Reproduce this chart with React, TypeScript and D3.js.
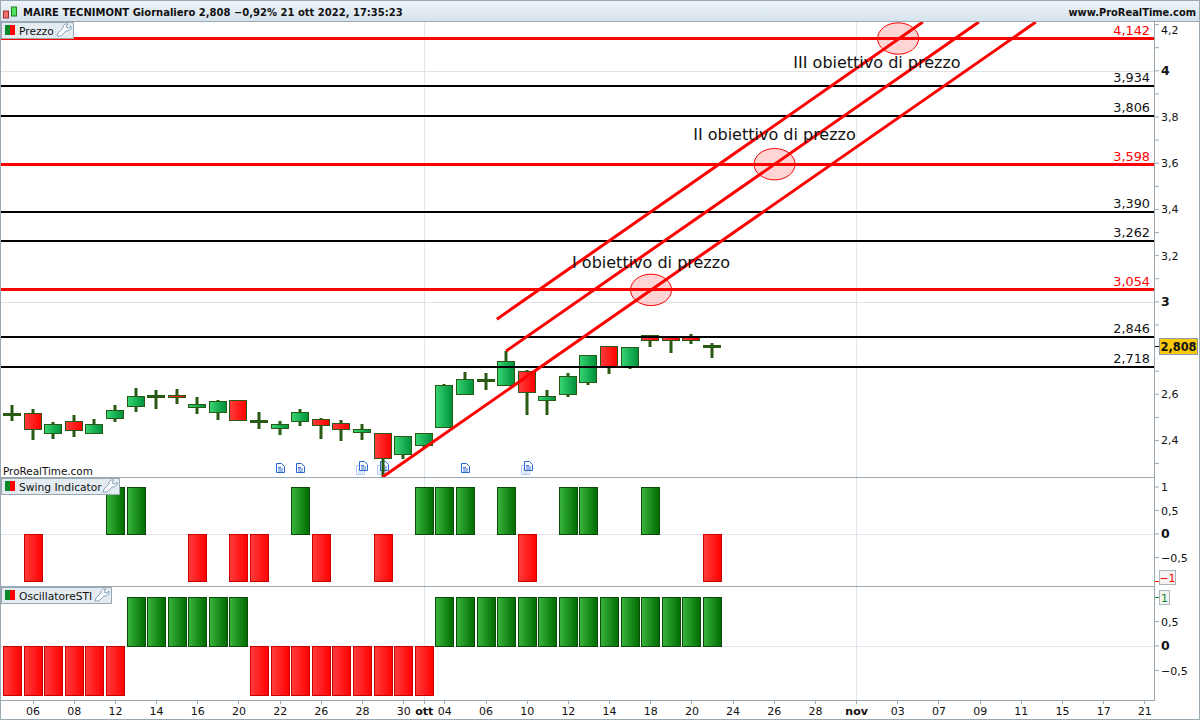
import React from "react";
import * as d3 from "d3";

const W = 1200;
const H = 720;

// [open, high, low, close]
const candles: number[][] = [
  [2.514, 2.553, 2.484, 2.514],
  [2.517, 2.536, 2.402, 2.448],
  [2.433, 2.478, 2.406, 2.47],
  [2.483, 2.51, 2.416, 2.444],
  [2.433, 2.493, 2.433, 2.47],
  [2.494, 2.553, 2.48, 2.53],
  [2.548, 2.627, 2.523, 2.591],
  [2.591, 2.618, 2.536, 2.591],
  [2.597, 2.623, 2.558, 2.587],
  [2.543, 2.588, 2.514, 2.556],
  [2.52, 2.575, 2.488, 2.569],
  [2.574, 2.574, 2.487, 2.487],
  [2.483, 2.523, 2.449, 2.483],
  [2.451, 2.484, 2.423, 2.47],
  [2.481, 2.536, 2.462, 2.522],
  [2.491, 2.497, 2.406, 2.465],
  [2.474, 2.488, 2.397, 2.448],
  [2.435, 2.471, 2.402, 2.448],
  [2.431, 2.431, 2.242, 2.323],
  [2.342, 2.418, 2.32, 2.418],
  [2.381, 2.431, 2.367, 2.431],
  [2.459, 2.644, 2.459, 2.639],
  [2.602, 2.696, 2.602, 2.665],
  [2.662, 2.692, 2.618, 2.662],
  [2.641, 2.787, 2.641, 2.743],
  [2.699, 2.705, 2.51, 2.608],
  [2.572, 2.618, 2.51, 2.591],
  [2.598, 2.692, 2.588, 2.678],
  [2.654, 2.769, 2.64, 2.769],
  [2.807, 2.807, 2.687, 2.717],
  [2.717, 2.803, 2.708, 2.803],
  [2.855, 2.855, 2.804, 2.833],
  [2.847, 2.847, 2.778, 2.833],
  [2.847, 2.86, 2.817, 2.833],
  [2.807, 2.822, 2.757, 2.807],
];

const swing = [0, -1, 0, 0, 0, 1, 1, 0, 0, -1, 0, -1, -1, 0, 1, -1, 0, 0, -1, 0, 1, 1, 1, 0, 1, -1, 0, 1, 1, 0, 0, 1, 0, 0, -1];
const sti = [-1, -1, -1, -1, -1, -1, 1, 1, 1, 1, 1, 1, -1, -1, -1, -1, -1, -1, -1, -1, -1, 1, 1, 1, 1, 1, 1, 1, 1, 1, 1, 1, 1, 1, 1];

const levels = [4.142, 3.934, 3.806, 3.598, 3.39, 3.262, 3.054, 2.846, 2.718];
const redLevels = [4.142, 3.598, 3.054];

// [index start, price start, index end, price end]
const trendLines = [
  [18, 2.242, 49.73, 4.211],
  [24, 2.787, 46.96, 4.211],
  [23.55, 2.925, 44.24, 4.211],
];

const targetX = [31, 37, 43];
const targetY = [3.054, 3.598, 4.142];
const targetLabels = ["I obiettivo di prezzo", "II obiettivo di prezzo", "III obiettivo di prezzo"];
const targetLabelX = [651, 774.5, 877];
const targetLabelY = [3.148, 3.702, 4.013];

const priceTicks = [4.2, 4, 3.8, 3.6, 3.4, 3.2, 3, 2.6, 2.4];
const priceMinor = [4.1, 3.9, 3.7, 3.5, 3.3, 3.1, 2.9, 2.7, 2.5, 2.3];
const swingTicks = [1, 0.5, 0, -0.5];
const stiTicks = [0.5, 0, -0.5];

const dateIdx = [1, 3, 5, 7, 9, 11, 13, 15, 17, 19, 20, 21, 23, 25, 27, 29, 31, 33, 35, 37, 39, 41, 43, 45, 47, 49, 51, 53, 55];
const dateLabels = ["06", "08", "12", "14", "16", "20", "22", "26", "28", "30", "ott", "04", "06", "10", "12", "14", "18", "20", "24", "26", "28", "nov", "03", "07", "09", "11", "15", "17", "21"];

const docsSingle = [13, 14, 22];
const docsStack = [17, 18, 25];

const FONT = "'DejaVu Sans', sans-serif";
const BORDER = "#9aa8b2";
const WICK = "#285a14";

const x = d3.scaleLinear().domain([0, 34]).range([12, 712]);
const yP = d3.scaleLinear().domain([4.142, 2.718]).range([38, 367]);
const yS = d3.scaleLinear().domain([1, -1]).range([487, 581]);
const yO = d3.scaleLinear().domain([1, -1]).range([597, 695]);
const fmt = (v: number, d?: number) => (d === undefined ? String(v) : v.toFixed(d)).replace(".", ",").replace("-", "−");

function Doc({ cx, stacked }: { cx: number; stacked: boolean }) {
  const sheet = (px: number, py: number, color: string, key: string) => (
    <g key={key} transform={`translate(${px},${py})`}>
      <path d="M0.5,0.5H5.5L8.5,3.5V9.5H0.5Z" fill="#fff" stroke={color} />
      <path d="M2,4.5H5M2,6H7M2,8H7" stroke={color} strokeWidth={0.9} />
    </g>
  );
  const c = Math.round(cx);
  return stacked ? (
    <g>
      {sheet(c - 6, 465, "#b5caf0", "b")}
      {sheet(c - 3, 461, "#2a66d0", "f")}
    </g>
  ) : (
    <g>{sheet(c - 4, 463, "#2a66d0", "f")}</g>
  );
}

function Tag({ label, y, w }: { label: string; y: number; w: number }) {
  return (
    <g>
      <rect x={1.5} y={y + 0.5} width={w} height={16} fill="#e4ecf2" stroke={BORDER} />
      <rect x={5} y={y + 3} width={5} height={10} fill="#0a8a2a" />
      <rect x={10} y={y + 3} width={5} height={10} fill="#ff0000" />
      <text x={19} y={y + 12.5} fontSize={10.7} fontFamily={FONT} fill="#111">{label}</text>
      <path
        d={`M${w - 15},${y + 14} l1,-3 l5,-5 l0,-2 l2,-2 l3,0 l-2,2 l1,2 l2,0 l2,-2 l0,3 l-3,2 l-2,0 l-5,5 z`}
        fill="#fff"
        stroke="#6f93b0"
        strokeWidth={0.8}
      />
    </g>
  );
}

export default function App() {
  const bw = 18;
  return (
    <svg
      width={W}
      height={H}
      viewBox={`0 0 ${W} ${H}`}
      style={{ position: "fixed", left: 0, top: 0, display: "block", background: "#fff" }}
    >
      <defs>
        <linearGradient id="cg"><stop offset="0" stopColor="#36d673" /><stop offset="1" stopColor="#00903a" /></linearGradient>
        <linearGradient id="cr"><stop offset="0" stopColor="#ff3d3d" /><stop offset="1" stopColor="#ff0000" /></linearGradient>
        <linearGradient id="bg"><stop offset="0" stopColor="#38b53c" /><stop offset="1" stopColor="#006a00" /></linearGradient>
        <linearGradient id="head" x2="0" y2="1"><stop offset="0" stopColor="#eef4f8" /><stop offset="1" stopColor="#d5e2ec" /></linearGradient>
      </defs>

      {/* grids */}
      {[4, 3].map((v) => (
        <line key={v} x1={1} x2={1155} y1={Math.round(yP(v)) + 0.5} y2={Math.round(yP(v)) + 0.5} stroke="#e2e2e2" />
      ))}
      {[20, 41].map((i) => (
        <line key={i} x1={Math.round(x(i)) + 0.5} x2={Math.round(x(i)) + 0.5} y1={22} y2={700} stroke="#e2e4ee" />
      ))}
      <line x1={1} x2={1155} y1={534.5} y2={534.5} stroke="#e2e4ee" />
      <line x1={1} x2={1155} y1={646.5} y2={646.5} stroke="#e2e4ee" />

      {/* indicator bars */}
      {swing.map((v, i) =>
        v === 0 ? null : (
          <rect
            key={i}
            x={Math.round(x(i)) - 8.5}
            y={Math.min(yS(v), yS(0)) + 0.5}
            width={18}
            height={Math.abs(yS(v) - yS(0))}
            fill={v > 0 ? "url(#bg)" : "url(#cr)"}
            stroke={v > 0 ? "#0b4a0b" : "#c80000"}
          />
        ),
      )}
      {sti.map((v, i) => (
        <rect
          key={i}
          x={Math.round(x(i)) - 8.5}
          y={Math.min(yO(v), yO(0)) + 0.5}
          width={18}
          height={Math.abs(yO(v) - yO(0))}
          fill={v > 0 ? "url(#bg)" : "url(#cr)"}
          stroke={v > 0 ? "#0b4a0b" : "#c80000"}
        />
      ))}

      {docsSingle.map((i) => <Doc key={i} cx={x(i)} stacked={false} />)}
      {docsStack.map((i) => <Doc key={i} cx={x(i)} stacked />)}

      {/* candles */}
      {candles.map(([o, h, l, c], i) => {
        const cx = Math.round(x(i));
        const top = yP(Math.max(o, c));
        const bot = yP(Math.min(o, c));
        return (
          <g key={i}>
            <rect x={cx - 1.5} y={Math.round(yP(h))} width={3} height={Math.round(yP(l) - yP(h))} fill={WICK} />
            {o === c ? (
              <rect x={cx - 9} y={Math.round(top) - 1} width={18} height={3} fill={WICK} />
            ) : (
              <rect
                x={cx - 9 + 0.5}
                y={Math.round(top) + 0.5}
                width={bw - 1}
                height={Math.max(2, Math.round(bot - top))}
                fill={c > o ? "url(#cg)" : "url(#cr)"}
                stroke={WICK}
              />
            )}
          </g>
        );
      })}

      {/* horizontal levels */}
      {levels.map((v) => {
        const red = redLevels.includes(v);
        const ly = red ? Math.round(yP(v)) + 0.5 : Math.round(yP(v));
        return (
          <g key={v}>
            <line x1={1} x2={1155} y1={ly} y2={ly} stroke={red ? "#ff0000" : "#000"} strokeWidth={red ? 3 : 2} />
            <text x={1150} y={ly - 4} textAnchor="end" fontSize={12.8} fontFamily={FONT} fill={red ? "#ff0000" : "#111"}>
              {fmt(v, 3)}
            </text>
          </g>
        );
      })}

      {/* trend channel */}
      {trendLines.map(([a, pa, b, pb], i) => (
        <line key={i} x1={x(a)} y1={yP(pa)} x2={x(b)} y2={yP(pb)} stroke="#ff0000" strokeWidth={3} />
      ))}
      {targetX.map((t, i) => (
        <ellipse key={i} cx={x(t) + 0.8} cy={yP(targetY[i]) + 0.5} rx={20.5} ry={15.7} fill="#ff0000" fillOpacity={0.17} stroke="#ff0000" strokeWidth={1} />
      ))}
      {targetLabels.map((t, i) => (
        <text key={t} x={targetLabelX[i]} y={yP(targetLabelY[i])} textAnchor="middle" fontSize={16} fontFamily={FONT} fill="#111">
          {t}
        </text>
      ))}

      <text x={3} y={475} fontSize={10.4} fontFamily={FONT} fill="#111">ProRealTime.com</text>

      {/* header */}
      <rect x={0} y={0} width={W} height={22} fill="url(#head)" />
      <rect x={0.5} y={0.5} width={W - 1} height={21} fill="none" stroke={BORDER} />
      <rect x={3.5} y={11} width={5} height={7} fill="#f07070" stroke="#a03030" />
      <rect x={11.5} y={7} width={5} height={9} fill="#50e060" stroke="#208020" />
      <text x={23} y={16} fontSize={10} fontWeight={700} fontFamily={FONT} fill="#111">
        MAIRE TECNIMONT Giornaliero 2,808 −0,92% 21 ott 2022, 17:35:23
      </text>
      <text x={1196} y={16} textAnchor="end" fontSize={9.9} fontWeight={700} fontFamily={FONT} fill="#111">www.ProRealTime.com</text>

      {/* frame */}
      <line x1={0.5} x2={0.5} y1={22} y2={719} stroke={BORDER} />
      <line x1={1154.5} x2={1154.5} y1={22} y2={700} stroke={BORDER} />
      <line x1={1199.5} x2={1199.5} y1={22} y2={719} stroke={BORDER} />
      <line x1={0} x2={1155} y1={477.5} y2={477.5} stroke={BORDER} />
      <line x1={0} x2={1155} y1={586.5} y2={586.5} stroke={BORDER} />
      <line x1={0} x2={1155} y1={700.5} y2={700.5} stroke={BORDER} />
      <line x1={0} x2={1200} y1={719.5} y2={719.5} stroke={BORDER} />

      {/* tags */}
      <Tag label="Prezzo" y={22} w={72} />
      <Tag label="Swing Indicator" y={478} w={118} />
      <Tag label="OscillatoreSTI" y={587} w={110} />

      {/* price axis */}
      {priceMinor.map((v) => (
        <line key={v} x1={1155} x2={1159} y1={yP(v)} y2={yP(v)} stroke={BORDER} />
      ))}
      {priceTicks.map((v) => (
        <g key={v}>
          <line x1={1155} x2={1159} y1={yP(v)} y2={yP(v)} stroke={BORDER} />
          <text x={1161} y={yP(v) + (v === 4.2 ? 9 : 4)} fontSize={v === 4 || v === 3 ? 12.5 : 11} fontWeight={v === 4 || v === 3 ? 700 : 400} fontFamily={FONT} fill="#111">
            {fmt(v)}
          </text>
        </g>
      ))}
      <line x1={1155} x2={1159} y1={346.5} y2={346.5} stroke="#000" />
      <rect x={1159.5} y={338.5} width={38} height={16} fill="#f7c80c" stroke="#8f9ca6" />
      <text x={1178.5} y={351} textAnchor="middle" fontSize={11.4} fontWeight={700} fontFamily={FONT} fill="#111">2,808</text>

      {/* swing axis */}
      {swingTicks.map((v) => (
        <g key={v}>
          <line x1={1155} x2={1159} y1={yS(v)} y2={yS(v)} stroke={BORDER} />
          <text x={1161} y={yS(v) + 4} fontSize={v === 0 ? 12.5 : 11} fontWeight={v === 0 ? 700 : 400} fontFamily={FONT} fill="#111">{fmt(v)}</text>
        </g>
      ))}
      <line x1={1155} x2={1159} y1={581.5} y2={581.5} stroke="#ff0000" />
      <rect x={1159.5} y={570.5} width={16} height={14} fill="#f3f3f3" stroke="#aab4ba" />
      <text x={1167.5} y={581.5} textAnchor="middle" fontSize={11} fontFamily={FONT} fill="#ff0000">−1</text>

      {/* sti axis */}
      {stiTicks.map((v) => (
        <g key={v}>
          <line x1={1155} x2={1159} y1={yO(v)} y2={yO(v)} stroke={BORDER} />
          <text x={1161} y={yO(v) + 4} fontSize={v === 0 ? 12.5 : 11} fontWeight={v === 0 ? 700 : 400} fontFamily={FONT} fill="#111">{fmt(v)}</text>
        </g>
      ))}
      <line x1={1155} x2={1159} y1={597.5} y2={597.5} stroke="#0a8a2a" />
      <rect x={1159.5} y={590.5} width={10} height={14} fill="#f3f3f3" stroke="#aab4ba" />
      <text x={1164.5} y={601.5} textAnchor="middle" fontSize={11} fontFamily={FONT} fill="#0a8a2a">1</text>

      {/* date axis */}
      {dateIdx.map((i, k) => (
        <g key={k}>
          <line x1={Math.round(x(i)) + 0.5} x2={Math.round(x(i)) + 0.5} y1={700} y2={704} stroke={BORDER} />
          <text
            x={x(i) + 0.5}
            y={715}
            textAnchor="middle"
            fontSize={11}
            fontWeight={dateLabels[k] === "ott" || dateLabels[k] === "nov" ? 700 : 400}
            fontFamily={FONT}
            fill="#111"
          >
            {dateLabels[k]}
          </text>
        </g>
      ))}
    </svg>
  );
}
